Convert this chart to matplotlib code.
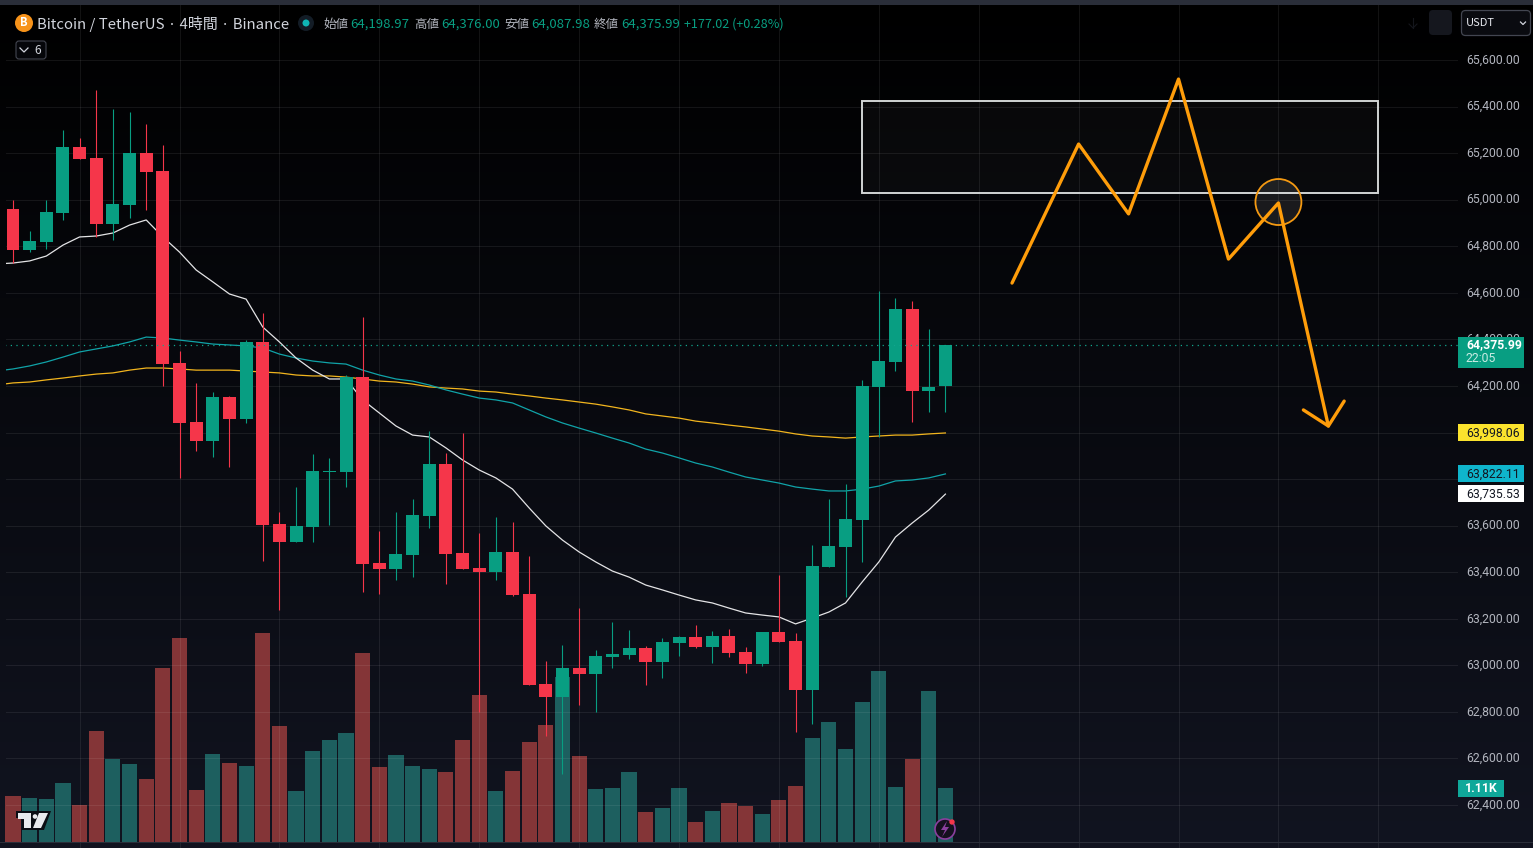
import numpy as np
import matplotlib
matplotlib.use('Agg')
import matplotlib.pyplot as plt
from matplotlib.patches import Rectangle, Ellipse, Circle, Polygon, FancyBboxPatch
from matplotlib.transforms import Affine2D, Bbox, blended_transform_factory

plt.rcParams['font.family'] = ['Noto Sans CJK JP', 'DejaVu Sans']

# velas (4h)
opens = [64960, 64784, 64818, 64943, 65226, 65179, 64896, 64977, 65201, 65123,
         64299, 64045, 63964, 64153, 64058, 64389, 63607, 63530, 63594, 63830,
         63830, 64238, 63440, 63414, 63474, 63641, 63865, 63483, 63418, 63401,
         63487, 63306, 62920, 62864, 62989, 62963, 63036, 63045, 63075, 63014,
         63096, 63122, 63079, 63126, 63057, 63006, 63143, 63105, 62894, 63422,
         63508, 63624, 64196, 64303, 64530, 64178, 64198.97]
highs = [65000, 64866, 65000, 65299, 65265, 65471, 65390, 65377, 65325, 65235,
         64350, 64213, 64174, 64157, 64397, 64513, 63659, 63766, 63908, 63891,
         64247, 64496, 63577, 63659, 63714, 64007, 63912, 63998, 63568, 63637,
         63616, 63470, 63017, 63087, 63246, 63066, 63186, 63152, 63083, 63117,
         63126, 63173, 63148, 63156, 63079, 63143, 63388, 63139, 63517, 63714,
         63779, 64226, 64608, 64578, 64565, 64445, 64376.00]
lows = [64728, 64775, 64788, 64913, 65175, 64840, 64827, 64921, 64956, 64200,
        63805, 63921, 63895, 63852, 64041, 63448, 63238, 63530, 63530, 63603,
        63766, 63315, 63306, 63367, 63379, 63590, 63349, 63414, 62800, 63367,
        63298, 62916, 62697, 62533, 62830, 62800, 62989, 63027, 62916, 62946,
        63040, 63075, 63010, 63036, 62967, 62997, 63100, 62714, 62748, 63422,
        63294, 63444, 63981, 64264, 64045, 64088, 64087.98]
closes = [64784, 64823, 64947, 65226, 65175, 64896, 64982, 65201, 65119, 64294,
          64041, 63964, 64153, 64058, 64389, 63603, 63530, 63598, 63835, 63835,
          64238, 63435, 63414, 63478, 63646, 63865, 63478, 63414, 63401, 63487,
          63302, 62916, 62864, 62989, 62963, 63040, 63049, 63075, 63014, 63100,
          63122, 63079, 63126, 63053, 63006, 63143, 63100, 62894, 63427, 63513,
          63629, 64200, 64307, 64530, 64178, 64196, 64375.99]
volumen = [945, 904, 884, 1212, 760, 2281, 1706, 1603, 1295, 3576,
           4192, 1069, 1808, 1623, 1562, 4295, 2384, 1048, 1870, 2096,
           2240, 3884, 1541, 1788, 1562, 1500, 1439, 2096, 3021, 1048,
           1459, 2055, 2404, 3391, 1767, 1089, 1110, 1439, 617, 699,
           1110, 411, 637, 801, 740, 575, 863, 1151, 2137, 2466,
           1911, 2877, 3514, 1130, 1706, 3103, 1110]
vol_sube = [0, 1, 1, 1, 0, 0, 1, 1, 0, 0, 0, 0, 1, 0, 1, 0, 0, 1, 1, 1,
            1, 0, 0, 1, 1, 1, 0, 0, 0, 1, 0, 0, 0, 1, 0, 1, 1, 1, 0, 1,
            1, 0, 1, 0, 0, 1, 0, 0, 1, 1, 1, 1, 1, 1, 0, 1, 1]

# medias moviles, el primer valor es la vela anterior (indice -1)
ma_blanca = [64724, 64728, 64737, 64758, 64805, 64840, 64844, 64857, 64891, 64913,
             64840, 64775, 64698, 64647, 64595, 64573, 64453, 64389, 64320, 64268,
             64230, 64230, 64140, 64084, 64028, 63989, 63981, 63934, 63882, 63839,
             63805, 63757, 63676, 63599, 63538, 63487, 63444, 63405, 63379, 63345,
             63324, 63302, 63281, 63268, 63246, 63225, 63216, 63208, 63178, 63203,
             63229, 63268, 63358, 63444, 63551, 63611, 63667, 63735.53]
ma_teal = [64264, 64273, 64286, 64303, 64324, 64346, 64359, 64372, 64389, 64410,
           64406, 64397, 64389, 64380, 64376, 64372, 64363, 64337, 64320, 64307,
           64299, 64294, 64268, 64247, 64230, 64221, 64204, 64183, 64165, 64148,
           64140, 64127, 64097, 64067, 64041, 64019, 63998, 63976, 63955, 63929,
           63912, 63891, 63869, 63852, 63830, 63809, 63796, 63783, 63766, 63757,
           63749, 63749, 63757, 63770, 63792, 63796, 63805, 63822.11]
ma_amarilla = [64204, 64213, 64217, 64226, 64234, 64243, 64251, 64256, 64268, 64277,
               64277, 64273, 64268, 64268, 64268, 64264, 64260, 64256, 64247, 64243,
               64243, 64238, 64230, 64221, 64217, 64208, 64196, 64191, 64187, 64178,
               64174, 64165, 64157, 64148, 64140, 64131, 64122, 64110, 64097, 64080,
               64071, 64062, 64049, 64041, 64032, 64024, 64015, 64006, 63994, 63985,
               63981, 63976, 63981, 63985, 63989, 63989, 63994, 63998.06]

# dibujo a mano encima del grafico
zigzag_x = [60, 64, 67, 70, 73, 76, 79]
zigzag_y = [64642, 65239, 64939, 65518, 64745, 64986, 64028]
flecha_x = [77.5, 79, 79.95]
flecha_y = [64097, 64028, 64135]
caja_x = [51, 82]
caja_y = [65029, 65424]
circulo_x = 76
circulo_y = 64990

eje_precios = [65600, 65400, 65200, 65000, 64800, 64600, 64400, 64200, 64000,
               63800, 63600, 63400, 63200, 63000, 62800, 62600, 62400]
ocultos = [64000, 63800]  # tapados por las etiquetas de las medias
ultimo = 64375.99
etiquetas_ma = [(63998.06, '63,998.06', '#fbe32d'),
                (63822.11, '63,822.11', '#0fb5cc'),
                (63735.53, '63,735.53', '#ffffff')]

VERDE = '#089e82'
ROJO = '#f5364a'
GRIS = '#b2b5be'
ROJITO = '#843537'
RUMBO = ['Roboto', 'DejaVu Sans']

fig = plt.figure(figsize=(15.33, 8.48), dpi=100, facecolor='#000000')
ax = fig.add_axes([0, 0, 1, 1])
ax.set_xlim(-0.781, 91.29)
ax.set_ylim(62215.5, 65857.7)
ax.axis('off')

ax_vol = fig.add_axes([0, 0, 1, 1], zorder=-1)
ax_vol.axis('off')
ax.set_zorder(1)
ax.patch.set_visible(False)

# pixeles de la imagen, y hacia abajo
px = Affine2D().scale(1, -1).translate(0, 848)
borde = Bbox([[6, 0], [1458, 848]])

# fondo degradado
grad = np.linspace(0, 1, 256).reshape(-1, 1)
colores = np.zeros((256, 1, 3))
colores[:, 0, 0] = grad[:, 0] * 0.067
colores[:, 0, 1] = grad[:, 0] * 0.078
colores[:, 0, 2] = grad[:, 0] * 0.125
ax_vol.imshow(colores, extent=[0, 1, 0, 1], transform=ax_vol.transAxes, aspect='auto', zorder=0)
ax_vol.set_xlim(-0.781, 91.29)
ax_vol.set_ylim(-123, 17311)

# rejilla
mixta_v = blended_transform_factory(ax.transData, ax.transAxes)
for p in eje_precios:
    l = ax.plot([-1, 90], [p, p], color=(1, 1, 1, 0.075), lw=0.8, zorder=0)[0]
    l.set_clip_box(borde)
for i in np.arange(4, 85, 6):
    l = ax.plot([i, i], [0, 1], transform=mixta_v, color=(1, 1, 1, 0.075), lw=0.8, zorder=0)[0]
    l.set_clip_box(borde)

# volumen
x = np.arange(len(opens))
for i in x:
    color = '#1d5f5f' if vol_sube[i] else ROJITO
    ax_vol.bar(i, volumen[i], width=0.91, color=color, linewidth=0, zorder=2)

# medias
x_ma = np.arange(-1, 57)
for serie, color in [(ma_amarilla, '#f2b51e'), (ma_teal, '#10a3a8'), (ma_blanca, '#e4e4e6')]:
    l = ax.plot(x_ma, serie, color=color, lw=0.9, zorder=2)[0]
    l.set_clip_box(borde)

# velas
for i in x:
    color = VERDE if closes[i] >= opens[i] else ROJO
    ax.vlines(i, lows[i], highs[i], color=color, lw=0.8, zorder=3)
    abajo = min(opens[i], closes[i])
    ax.bar(i, abs(closes[i] - opens[i]), bottom=abajo, width=0.78, color=color, linewidth=0, zorder=3)

# linea del ultimo precio
l = ax.plot([-1, 88], [ultimo, ultimo], color='#12a58c', lw=0.9, ls=(0, (1, 3.5)), zorder=4)[0]
l.set_clip_box(borde)

# caja, circulo y zigzag
ax.add_patch(Rectangle((caja_x[0], caja_y[0]), caja_x[1] - caja_x[0], caja_y[1] - caja_y[0],
                       facecolor=(1, 1, 1, 0.028), edgecolor='#d1d4d4', lw=1.4, zorder=5))
ax.add_patch(Ellipse((circulo_x, circulo_y), 2.76, 197.6, facecolor=(1, 1, 1, 0.09),
                     edgecolor='#f59a12', lw=1.3, zorder=5))
ax.plot(zigzag_x, zigzag_y, color='#ff9d0a', lw=2.4, solid_joinstyle='round', solid_capstyle='round', zorder=6)
ax.plot(flecha_x, flecha_y, color='#ff9d0a', lw=2.4, solid_joinstyle='round', solid_capstyle='round', zorder=6)

# eje de precios
mixta = blended_transform_factory(ax.transAxes, ax.transData)
for p in eje_precios:
    if p in ocultos:
        continue
    ax.text(1466 / 1533, p, f'{p:,.2f}', transform=mixta, color=GRIS, fontsize=8.8, family=RUMBO,
            va='center', ha='left', zorder=7)

# etiquetas a la derecha
ax.add_patch(Rectangle((1458 / 1533, ultimo - 98), 66 / 1533, 132, transform=mixta, facecolor='#089e82', lw=0, zorder=8))
ax.text(1466 / 1533, ultimo + 2, '64,375.99', transform=mixta, color='white', fontsize=8.8, fontweight='bold',
        family=RUMBO, va='center', zorder=9)
ax.text(1466 / 1533, ultimo - 60, '22:05', transform=mixta, color='#c8ebe3', fontsize=8.8,
        family=RUMBO, va='center', zorder=9)
for p, txt, color in etiquetas_ma:
    ax.add_patch(Rectangle((1458 / 1533, p - 36), 66 / 1533, 73, transform=mixta, facecolor=color, lw=0, zorder=8))
    ax.text(1466 / 1533, p, txt, transform=mixta, color='#131722', fontsize=8.8, family=RUMBO, va='center', zorder=9)
fig.patches.append(Rectangle((1458, 780), 46, 17, transform=px, facecolor='#0fa89a', lw=0))
fig.text(1481 / 1533, 1 - 789 / 848, '1.11K', color='white', fontsize=8.8, fontweight='bold',
         family=RUMBO, va='center', ha='center', zorder=9)

# franjas de la ventana
fig.patches.append(Rectangle((0, 0), 1533, 5, transform=px, facecolor='#2a2e39', lw=0))
fig.patches.append(Rectangle((0, 842), 1533, 1, transform=px, facecolor='#2a2e39', lw=0))

# cabecera
fig.patches.append(Circle((24, 23), 9, transform=px, facecolor='#f7931a', lw=0))
fig.text(24 / 1533, 1 - 23 / 848, 'B', color='white', fontsize=8, fontweight='bold', va='center', ha='center')
fig.text(37 / 1533, 1 - 24 / 848, 'Bitcoin / TetherUS · 4時間 · Binance', color='#d1d4dc', fontsize=10.75, va='center')
fig.patches.append(Circle((306, 23), 8, transform=px, facecolor='#131c26', lw=0))
fig.patches.append(Circle((306, 23), 3.5, transform=px, facecolor='#0fb5b5', lw=0))
cabecera = [(323, '始値', GRIS, 9), (350, '64,198.97', VERDE, 9.5), (414, '高値', GRIS, 9), (441, '64,376.00', VERDE, 9.5),
            (504, '安値', GRIS, 9), (531, '64,087.98', VERDE, 9.5), (594, '終値', GRIS, 9), (621, '64,375.99', VERDE, 9.5),
            (684, '+177.02 (+0.28%)', VERDE, 9.1)]
for xp, txt, color, tam in cabecera:
    fig.text(xp / 1533, 1 - 24.5 / 848, txt, color=color, fontsize=tam, va='center')

# boton de indicadores
fig.patches.append(FancyBboxPatch((16, 41), 30, 18, boxstyle='round,pad=0,rounding_size=3', transform=px,
                                  facecolor='#05060a', edgecolor='#434651', lw=0.8))
fig.lines.append(plt.Line2D([20, 24, 28], [48, 52, 48], transform=px, color='#d1d4dc', lw=0.9))
fig.text(38 / 1533, 1 - 50 / 848, '6', color='#d1d4dc', fontsize=8.6, va='center', ha='center')

# selector de moneda
fig.patches.append(FancyBboxPatch((1461.5, 10.5), 69, 25, boxstyle='round,pad=0,rounding_size=4', transform=px,
                                  facecolor='#0a0b10', edgecolor='#434651', lw=0.9))
fig.text(1466 / 1533, 1 - 23 / 848, 'USDT', color='#e6e8ee', fontsize=8, va='center')
fig.lines.append(plt.Line2D([1520.5, 1523, 1525.5], [22, 24.5, 22], transform=px, color='#d1d4dc', lw=0.9))
fig.patches.append(FancyBboxPatch((1429, 10), 23, 25, boxstyle='round,pad=0,rounding_size=4', transform=px,
                                  facecolor='#15171e', lw=0))
fig.lines.append(plt.Line2D([1413, 1413], [18, 28], transform=px, color='#14161c', lw=0.8))
fig.lines.append(plt.Line2D([1409, 1413, 1417], [24, 28, 24], transform=px, color='#14161c', lw=0.8))

# logo
fig.patches.append(Polygon([(16, 811), (51, 811), (44, 830), (22, 830), (22, 818), (16, 818)], transform=px,
                           facecolor='#0b0d14', lw=0))
fig.patches.append(Polygon([(18, 813), (31, 813), (31, 828), (24, 828), (24, 819), (18, 819)], transform=px,
                           facecolor='#e9eaee', lw=0))
fig.patches.append(Circle((35, 816.5), 2.3, transform=px, facecolor='#e9eaee', lw=0))
fig.patches.append(Polygon([(39, 813), (48, 813), (41, 828), (33, 828)], transform=px, facecolor='#e9eaee', lw=0))

# rayo
fig.patches.append(Circle((945, 829), 10, transform=px, facecolor='#14101e', edgecolor='#8a3f9e', lw=1.2))
fig.patches.append(Polygon([(947, 821), (941, 830), (945, 830), (942, 837), (949, 827), (945, 827)], transform=px,
                           facecolor='#8a3f9e', lw=0))
fig.patches.append(Circle((952, 822), 2.7, transform=px, facecolor=ROJO, lw=0))

fig.savefig('out.png', dpi=100, facecolor=fig.get_facecolor())
